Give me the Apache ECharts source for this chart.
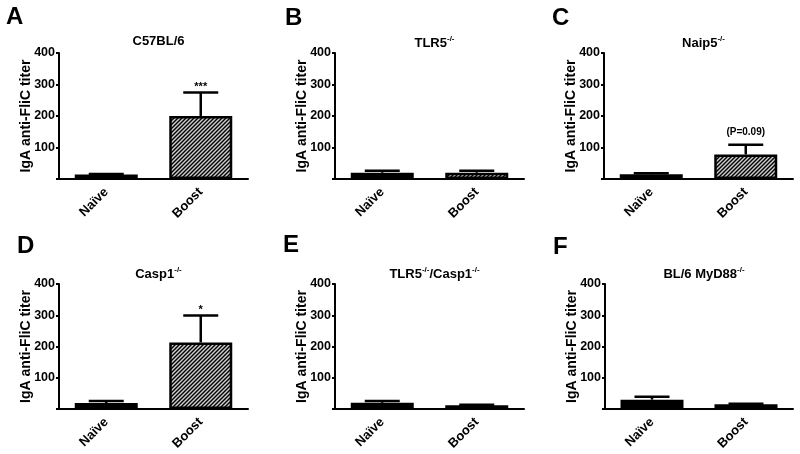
<!DOCTYPE html>
<html>
<head>
<meta charset="utf-8">
<script src="https://cdn.jsdelivr.net/npm/echarts@6/dist/echarts.min.js"></script>
<style>html,body{margin:0;padding:0;background:#fff;}#chart{width:800px;height:454px;}</style>
</head>
<body>
<div id="chart"></div>
<script>
// ---- data ----
const categories = ['Naïve', 'Boost'];
const panelLetters = ['A', 'B', 'C', 'D', 'E', 'F'];
const panelTitles = [
  ['C57BL/6'],
  ['TLR5', '-/-'],
  ['Naip5', '-/-'],
  ['Casp1', '-/-'],
  ['TLR5', '-/-', '/Casp1', '-/-'],
  ['BL/6 MyD88', '-/-']
];
const yAxisName = 'IgA anti-FliC titer';
const yTicks = [0, 100, 200, 300, 400];
const meansA = [14, 200], errA = [16, 275];
const meansB = [20, 20],  errB = [26, 26];
const meansC = [15, 78],  errC = [18, 109];
const meansD = [19, 213], errD = [26, 299];
const meansE = [20, 12],  errE = [26, 14];
const meansF = [30, 15],  errF = [39, 17];
const sigA = ['', '***'], sigB = ['', ''], sigC = ['', '(P=0.09)'];
const sigD = ['', '*'],   sigE = ['', ''], sigF = ['', ''];

const means = [meansA, meansB, meansC, meansD, meansE, meansF];
const errs = [errA, errB, errC, errD, errE, errF];
const sigs = [sigA, sigB, sigC, sigD, sigE, sigF];

// ---- styles ----
const FONT = 'Liberation Sans, Arial, Helvetica, sans-serif';
const grids = [
  {left: 59, top: 53, width: 189, height: 126},
  {left: 335, top: 53, width: 189, height: 126},
  {left: 604, top: 53, width: 189, height: 126},
  {left: 59, top: 284, width: 189, height: 125},
  {left: 335, top: 284, width: 189, height: 125},
  {left: 605, top: 284, width: 188, height: 125}
];
const titleCenterY = [36, 38, 38, 269, 269, 269];
const letterPos = [[6, 17], [285, 18], [552, 18], [17, 246], [283, 245], [553, 247]];

const hc = document.createElement('canvas');
hc.width = 4; hc.height = 4;
const g = hc.getContext('2d');
g.fillStyle = '#cfcfcf'; g.fillRect(0, 0, 4, 4);
g.strokeStyle = '#000'; g.lineWidth = 1.4;
g.beginPath();
g.moveTo(0, 4); g.lineTo(4, 0);
g.moveTo(-1, 1); g.lineTo(1, -1);
g.moveTo(3, 5); g.lineTo(5, 3);
g.stroke();
const hatch = {image: hc, repeat: 'repeat'};

function titleText(parts) {
  return parts.map((p, i) => (i % 2 === 0 ? '{b|' + p + '}' : '{s|' + p + '}')).join('');
}

const option = {
  animation: false,
  backgroundColor: '#fff',
  grid: grids.map(gr => Object.assign({containLabel: false}, gr)),
  title: panelTitles.map((t, i) => ({
    text: titleText(t),
    left: grids[i].left + grids[i].width / 2,
    top: titleCenterY[i] - 8,
    textAlign: 'center',
    textStyle: {
      rich: {
        b: {fontFamily: FONT, fontSize: 13, fontWeight: 'bold', color: '#000', lineHeight: 16},
        s: {fontFamily: FONT, fontSize: 8, fontWeight: 'bold', color: '#000', lineHeight: 16, verticalAlign: 'top', padding: [0, 0, 7, 0]}
      }
    }
  })),
  graphic: panelLetters.map((L, i) => ({
    type: 'text',
    left: letterPos[i][0],
    top: letterPos[i][1] - 12,
    style: {text: L, fontFamily: FONT, fontSize: 24, fontWeight: 'bold', fill: '#000'}
  })),
  xAxis: grids.map((gr, i) => ({
    type: 'category',
    gridIndex: i,
    data: categories,
    axisLine: {lineStyle: {color: '#000', width: 2}},
    axisTick: {alignWithLabel: true, length: 4, lineStyle: {color: '#000', width: 2}},
    axisLabel: {rotate: 45, margin: 11, fontFamily: FONT, fontSize: 13, fontWeight: 'bold', color: '#000', interval: 0}
  })),
  yAxis: grids.map((gr, i) => ({
    type: 'value',
    gridIndex: i,
    min: yTicks[0],
    max: yTicks[yTicks.length - 1],
    interval: yTicks[1] - yTicks[0],
    name: yAxisName,
    nameLocation: 'middle',
    nameGap: 26,
    nameMoveOverlap: false,
    nameTextStyle: {fontFamily: FONT, fontSize: 14, fontWeight: 'bold', color: '#000'},
    splitLine: {show: false},
    axisLine: {show: true, lineStyle: {color: '#000', width: 2}},
    axisTick: {show: true, length: 3, lineStyle: {color: '#000', width: 2}},
    axisLabel: {margin: 4, fontFamily: FONT, fontSize: 12.5, fontWeight: 'bold', color: '#000',
      formatter: v => (v === 0 ? '' : String(v))}
  })),
  series: [].concat(
    means.map((m, i) => ({
      type: 'bar',
      xAxisIndex: i,
      yAxisIndex: i,
      barWidth: 63,
      data: m.map((v, j) => ({value: v, itemStyle: {color: j === 0 ? '#000' : hatch}})),
      itemStyle: {borderColor: '#000', borderWidth: 2.5}
    })),
    means.map((m, i) => ({
      type: 'custom',
      xAxisIndex: i,
      yAxisIndex: i,
      z: 5,
      data: m.map((v, j) => [j, v, errs[i][j]]),
      encode: {x: 0, y: [1, 2]},
      renderItem: function (params, api) {
        const x = api.value(0), v = api.value(1), top = api.value(2);
        const p0 = api.coord([x, v]);
        const p1 = api.coord([x, top]);
        const half = 17.5;
        const ls = {stroke: '#000', lineWidth: 2.5};
        const children = [
          {type: 'line', shape: {x1: p0[0], y1: p0[1], x2: p1[0], y2: p1[1]}, style: ls},
          {type: 'line', shape: {x1: p1[0] - half, y1: p1[1], x2: p1[0] + half, y2: p1[1]}, style: ls}
        ];
        const lab = sigs[i][params.dataIndex];
        if (lab) {
          const star = lab.charAt(0) === '*';
          children.push({
            type: 'text',
            style: {
              text: lab, x: p1[0], y: p1[1] - (star ? 0 : 7),
              align: 'center', verticalAlign: 'bottom',
              fontFamily: FONT, fontSize: star ? 11 : 10, fontWeight: 'bold', fill: '#000'
            }
          });
        }
        return {type: 'group', children: children};
      }
    }))
  )
};

const chart = echarts.init(document.getElementById('chart'), null, {renderer: 'canvas'});
chart.setOption(option);
</script>
</body>
</html>
